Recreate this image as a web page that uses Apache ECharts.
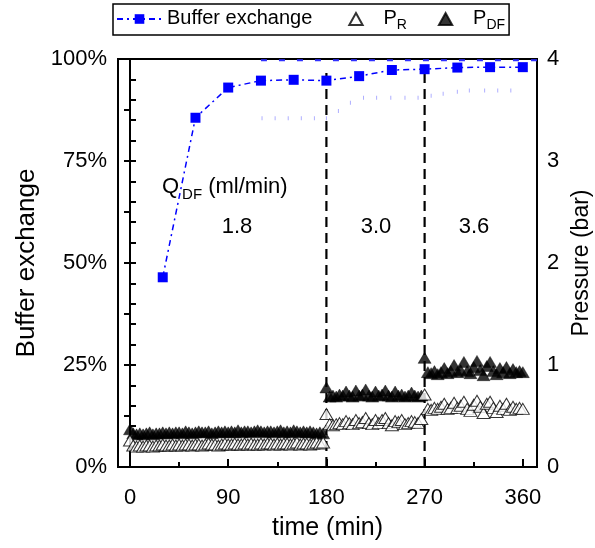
<!DOCTYPE html>
<html>
<head>
<meta charset="utf-8">
<script src="https://cdn.jsdelivr.net/npm/echarts@6/dist/echarts.min.js"></script>
<style>html,body{margin:0;padding:0;background:#fff}#c{width:595px;height:548px}</style>
</head>
<body>
<div id="c"></div>
<script>
// ---- data ----
const bufferTime = [30, 60, 90, 120, 150, 180, 210, 240, 270, 300, 330, 360];
const bufferValue = [46.5, 85.6, 93.0, 94.7, 94.9, 94.7, 95.8, 97.3, 97.5, 97.9, 98.0, 98.0];

const time1 = [0,3,6,9,12,15,18,21,24,27,30,33,36,39,42,45,48,51,54,57,60,63,66,69,72,75,78,81,84,87,90,93,96,99,102,105,108,111,114,117,120,123,126,129,132,135,138,141,144,147,150,153,156,159,162,165,168,171,174,177];
const time2 = [180,183,186,189,192,195,198,201,204,207,210,213,216,219,222,225,228,231,234,237,240,243,246,249,252,255,258,261,264,267];
const time3 = [270,273,276,279,282,285,288,291,294,297,300,303,306,309,312,315,318,321,324,327,330,333,336,339,342,345,348,351,354,357,360];

const pdf1 = [0.37,0.33,0.32,0.33,0.32,0.33,0.34,0.32,0.33,0.33,
              0.34,0.33,0.34,0.33,0.34,0.34,0.33,0.35,0.34,0.33,
              0.34,0.35,0.34,0.34,0.35,0.33,0.34,0.35,0.34,0.35,
              0.34,0.35,0.34,0.36,0.34,0.35,0.35,0.34,0.35,0.36,
              0.35,0.34,0.35,0.35,0.34,0.35,0.36,0.34,0.35,0.34,
              0.36,0.35,0.34,0.35,0.34,0.35,0.34,0.33,0.34,0.33];
const pdf2 = [0.78,0.69,0.70,0.69,0.71,0.70,0.74,0.70,0.69,0.75,
              0.70,0.71,0.76,0.70,0.69,0.74,0.70,0.71,0.75,0.70,
              0.69,0.74,0.70,0.71,0.69,0.70,0.73,0.70,0.69,0.70];
const pdf3 = [1.07,0.93,0.92,0.94,0.91,0.93,0.97,0.92,0.94,1.00,
              0.93,0.95,1.03,0.94,0.92,0.98,1.04,0.95,0.90,0.99,
              1.03,0.94,0.91,0.97,0.93,0.98,0.92,0.96,0.93,0.94,0.93];

const pr1 = [0.26,0.21,0.20,0.21,0.20,0.21,0.21,0.20,0.21,0.21,
             0.22,0.21,0.21,0.22,0.21,0.22,0.21,0.22,0.22,0.21,
             0.22,0.22,0.21,0.22,0.23,0.22,0.22,0.21,0.22,0.23,
             0.22,0.22,0.23,0.22,0.22,0.23,0.22,0.23,0.22,0.22,
             0.23,0.22,0.23,0.23,0.22,0.23,0.22,0.23,0.23,0.22,
             0.23,0.24,0.22,0.23,0.23,0.22,0.23,0.24,0.23,0.24];
const pr2 = [0.52,0.42,0.41,0.42,0.43,0.42,0.45,0.43,0.42,0.46,
             0.43,0.44,0.48,0.43,0.42,0.46,0.43,0.46,0.48,0.43,
             0.41,0.45,0.44,0.46,0.42,0.43,0.45,0.44,0.43,0.47];
const pr3 = [0.71,0.57,0.56,0.58,0.57,0.59,0.62,0.57,0.58,0.63,
             0.58,0.60,0.64,0.57,0.55,0.61,0.65,0.59,0.53,0.62,
             0.64,0.58,0.54,0.60,0.57,0.62,0.56,0.59,0.57,0.58,0.57];

const faintTime = [121,133,145,157,169,180,191,202,214,226,239,252,264,276,287,300,311,325,337,349];
const faintValue = [3.42,3.42,3.42,3.42,3.42,3.42,3.49,3.57,3.62,3.62,3.62,3.62,3.62,3.64,3.66,3.68,3.69,3.69,3.69,3.69];

const topTime = [120, 373];
const topValue = [99.7, 99.7];

const phaseBoundaries = [180, 270];
const phaseFlows = ['1.8', '3.0', '3.6'];
const xLabels = [0, 90, 180, 270, 360];
const xMinor = [45, 135, 225, 315];

// ---- build ----
const zip = (a, b) => a.map((v, i) => [v, b[i]]);
const timeAll = time1.concat(time2, time3);
const pdfAll = pdf1.concat(pdf2, pdf3);
const prAll = pr1.concat(pr2, pr3);

const FONT = 'Liberation Sans, Arial, sans-serif';
const chart = echarts.init(document.getElementById('c'), null, {renderer: 'canvas'});

const vlineSeries = phaseBoundaries.map(t => ({
  type: 'line', yAxisIndex: 0, data: [[t, 0], [t, 98]],
  symbol: 'none', silent: true, z: 1,
  lineStyle: {color: '#000', width: 2.2, type: [10, 6]}
}));

const subRich = {
  b: {fontSize: 20, fontFamily: FONT, color: '#000', verticalAlign: 'top', lineHeight: 22, padding: [0, 5, 0, 0]},
  m: {fontSize: 20, fontFamily: FONT, color: '#000', verticalAlign: 'top', lineHeight: 22},
  s: {fontSize: 14, fontFamily: FONT, color: '#000', verticalAlign: 'top', lineHeight: 14, padding: [10, 0, 0, 0]}
};
const TRI = 'path://M5,0 L10,9 L0,9 Z';

const option = {
  animation: false,
  backgroundColor: '#fff',
  grid: {left: 118, right: 58, top: 59, bottom: 81, outerBoundsMode: 'none', containLabel: false,
         show: true, borderColor: '#000', borderWidth: 2, backgroundColor: 'transparent'},
  legend: {
    left: 113, top: 4,
    data: [{name: 'Buffer exchange'}, {name: 'PR', icon: TRI}, {name: 'PDF', icon: TRI}],
    symbolKeepAspect: true,
    borderColor: '#000', borderWidth: 1.5, padding: [4, 4, 3, 3],
    itemWidth: 45, itemHeight: 12, itemGap: 31,
    textStyle: {fontSize: 20, fontFamily: FONT, color: '#000', rich: subRich},
    formatter: function (name) {
      if (name === 'PR') return '{m|P}{s|R}';
      if (name === 'PDF') return '{m|P}{s|DF}';
      return '{b|' + name + '}';
    }
  },
  xAxis: [{
    type: 'value', min: -11, max: 373,
    name: 'time (min)', nameLocation: 'middle', nameGap: 49,
    nameTextStyle: {fontSize: 25, fontFamily: FONT, color: '#000'},
    axisLine: {lineStyle: {color: '#000', width: 2}},
    axisTick: {inside: true, length: 8, lineStyle: {color: '#000', width: 2}, customValues: xLabels},
    axisLabel: {fontSize: 22, fontFamily: FONT, color: '#000', margin: 20, customValues: xLabels},
    splitLine: {show: false}
  }, {
    type: 'value', min: -11, max: 373, position: 'top', offset: -408,
    axisLine: {show: false},
    axisTick: {inside: false, length: 5, lineStyle: {color: '#000', width: 2}, customValues: xMinor},
    axisLabel: {show: false},
    splitLine: {show: false}
  }],
  yAxis: [{
    type: 'value', min: 0, max: 100, interval: 25,
    name: 'Buffer exchange', nameLocation: 'middle', nameGap: 73,
    nameTextStyle: {fontSize: 26, fontFamily: FONT, color: '#000'},
    axisLine: {show: true, lineStyle: {color: '#000', width: 2}},
    axisTick: {inside: true, length: 6, lineStyle: {color: '#000', width: 2}},
    minorTick: {show: true, splitNumber: 5, length: 6, lineStyle: {color: '#000', width: 2}},
    axisLabel: {fontSize: 22, fontFamily: FONT, color: '#000', margin: 11, formatter: '{value}%'},
    splitLine: {show: false}
  }, {
    type: 'value', min: 0, max: 4, interval: 1, position: 'right',
    name: 'Pressure (bar)', nameLocation: 'middle', nameGap: 30,
    nameTextStyle: {fontSize: 23, fontFamily: FONT, color: '#000'},
    axisLine: {show: true, lineStyle: {color: '#000', width: 2}},
    axisTick: {inside: true, length: 6, lineStyle: {color: '#000', width: 2}},
    minorTick: {show: true, splitNumber: 2, length: 6, lineStyle: {color: '#000', width: 2}},
    axisLabel: {fontSize: 22, fontFamily: FONT, color: '#000', margin: 10},
    splitLine: {show: false}
  }],
  graphic: [
    {type: 'text', left: 162, top: 176, z: 100, style: {
      text: '{q|Q}{d|DF}{q| (ml/min)}', fill: '#000',
      rich: {
        q: {fontSize: 22, fontFamily: FONT, color: '#000', verticalAlign: 'top', lineHeight: 24},
        d: {fontSize: 15, fontFamily: FONT, color: '#000', verticalAlign: 'top', lineHeight: 15, padding: [11, 0, 0, 3]}
      }}},
    {type: 'text', x: 237, y: 227, z: 100, style: {text: phaseFlows[0], fontSize: 22, fontFamily: FONT, fill: '#000', align: 'center', verticalAlign: 'middle'}},
    {type: 'text', x: 376, y: 227, z: 100, style: {text: phaseFlows[1], fontSize: 22, fontFamily: FONT, fill: '#000', align: 'center', verticalAlign: 'middle'}},
    {type: 'text', x: 474, y: 227, z: 100, style: {text: phaseFlows[2], fontSize: 22, fontFamily: FONT, fill: '#000', align: 'center', verticalAlign: 'middle'}}
  ],
  series: vlineSeries.concat([
    {
      name: 'faint', type: 'scatter', yAxisIndex: 1, data: zip(faintTime, faintValue),
      symbol: 'rect', symbolSize: [1, 4], itemStyle: {color: '#9a9aff'}, silent: true, z: 1
    },
    {
      name: 'top', type: 'line', yAxisIndex: 0, data: zip(topTime, topValue),
      symbol: 'none', silent: true, z: 1,
      lineStyle: {color: '#3030ff', width: 2, type: [6, 12]}
    },
    {
      name: 'PDF', type: 'scatter', yAxisIndex: 1, data: zip(timeAll, pdfAll),
      symbol: 'triangle', symbolSize: [13, 11],
      itemStyle: {color: '#000', borderColor: '#000', borderWidth: 0.5}, z: 3
    },
    {
      name: 'PR', type: 'scatter', yAxisIndex: 1, data: zip(timeAll, prAll),
      symbol: 'triangle', symbolSize: [13, 11],
      itemStyle: {color: '#fff', borderColor: '#000', borderWidth: 1}, z: 4
    },
    {
      name: 'Buffer exchange', type: 'line', yAxisIndex: 0, data: zip(bufferTime, bufferValue),
      symbol: 'rect', symbolSize: 10, showSymbol: true,
      itemStyle: {color: '#0000ff'},
      lineStyle: {color: '#0000ff', width: 1.5, type: [6, 4, 2, 4]}, z: 5
    }
  ])
};
chart.setOption(option);
</script>
</body>
</html>
